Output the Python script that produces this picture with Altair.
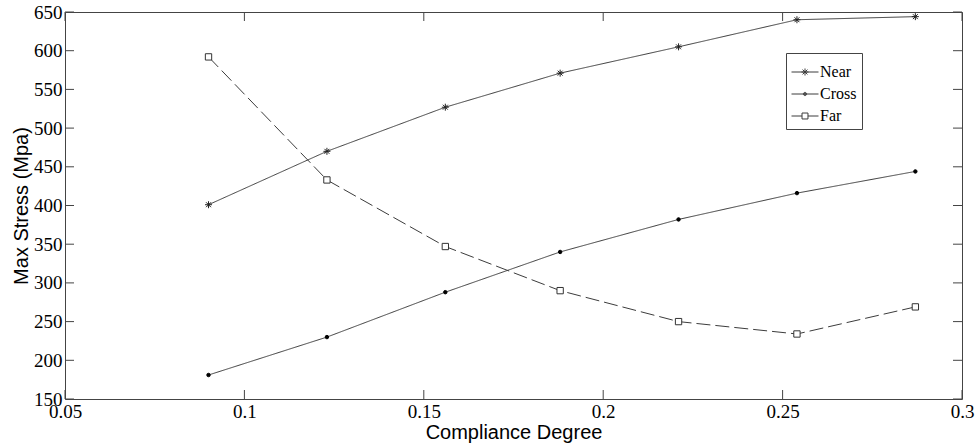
import altair as alt
import pandas as pd

# Compliance degree sampled at seven levels
compliance = [0.090, 0.123, 0.156, 0.188, 0.221, 0.254, 0.287]

# Max stress (MPa) for each loading position
near_stress = [401, 470, 527, 571, 605, 640, 644]
cross_stress = [181, 230, 288, 340, 382, 416, 444]
far_stress = [592, 433, 347, 290, 250, 234, 269]

series_names = ["Near", "Cross", "Far"]

# Axis tick values
x_ticks = [0.05, 0.1, 0.15, 0.2, 0.25, 0.3]
y_ticks = [150, 200, 250, 300, 350, 400, 450, 500, 550, 600, 650]

rows = []
for name, vals in zip(series_names, [near_stress, cross_stress, far_stress]):
    for cx, v in zip(compliance, vals):
        rows.append({"series": name, "compliance": cx, "stress": v})
df = pd.DataFrame(rows)

W, H = 897, 387
TICK = 9
LINE = "#3c3c3c"
FRAME = "#444444"

x_scale = alt.Scale(domain=[0.05, 0.3], nice=False, zero=False)
y_scale = alt.Scale(domain=[150, 650], nice=False, zero=False)

label_style = dict(
    grid=False,
    ticks=False,
    domain=False,
    labelFont="Liberation Serif",
    labelFontSize=19,
    labelColor="black",
    labelPadding=3,
    labelFlush=False,
    labelOverlap=False,
    titleFont="Liberation Sans",
    titleFontSize=20,
    titleFontWeight="normal",
    titleColor="black",
)

x_axis = alt.Axis(title="Compliance Degree", values=x_ticks, format="~g",
                  titlePadding=1, **label_style)
y_axis = alt.Axis(title="Max Stress (Mpa)", values=y_ticks, titlePadding=2,
                  **label_style)


def xpos(field):
    return alt.X(field, scale=x_scale, axis=x_axis)


def ypos(field):
    return alt.Y(field, scale=y_scale, axis=y_axis)


# Connecting lines: solid for Near/Cross, dashed for Far
lines = alt.Chart(df).mark_line(strokeWidth=1, color=LINE).encode(
    x=xpos("compliance:Q"),
    y=ypos("stress:Q"),
    strokeDash=alt.StrokeDash(
        "series:N",
        scale=alt.Scale(domain=series_names, range=[[1, 0], [1, 0], [14, 5]]),
        legend=None,
    ),
    detail="series:N",
)

ASTERISK = "M-1,0L1,0M0,-1L0,1M-0.7,-0.7L0.7,0.7M-0.7,0.7L0.7,-0.7"


def markers(name, **mark_kw):
    return (
        alt.Chart(df)
        .transform_filter(alt.datum.series == name)
        .mark_point(strokeWidth=1, opacity=1, **mark_kw)
        .encode(x=xpos("compliance:Q"), y=ypos("stress:Q"))
    )


near_pts = markers("Near", shape=ASTERISK, size=49, stroke="#222222", fill="transparent")
cross_pts = markers("Cross", shape="circle", size=12, stroke="black", fill="black")
far_pts = markers("Far", shape="square", size=40, stroke="#333333", fill="white")

# Legend symbols: a short line with the marker in its middle
LEG_NEAR = ("M-1,0L1,0M-0.26,0L0.26,0M0,-0.26L0,0.26"
            "M-0.18,-0.18L0.18,0.18M-0.18,0.18L0.18,-0.18")
LEG_CROSS = ("M-1,0L1,0M-0.12,0A0.12,0.12,0,1,0,0.12,0A0.12,0.12,0,1,0,-0.12,0Z"
             "M-0.06,0A0.06,0.06,0,1,0,0.06,0A0.06,0.06,0,1,0,-0.06,0Z")
LEG_FAR = "M-1,0L-0.22,0M0.22,0L1,0M-0.22,-0.22L0.22,-0.22L0.22,0.22L-0.22,0.22Z"

legend_layer = alt.Chart(df).transform_filter("false").mark_point(
    strokeWidth=1, color=LINE, filled=False
).encode(
    x=xpos("compliance:Q"),
    y=ypos("stress:Q"),
    shape=alt.Shape(
        "series:N",
        scale=alt.Scale(domain=series_names, range=[LEG_NEAR, LEG_CROSS, LEG_FAR]),
        legend=alt.Legend(
            title=None,
            orient="none",
            legendX=721,
            legendY=41,
            direction="vertical",
            symbolSize=729,
            symbolStrokeWidth=1,
            symbolStrokeColor=LINE,
            symbolFillColor="transparent",
            symbolOpacity=1,
            labelFont="Liberation Serif",
            labelFontSize=16,
            labelColor="black",
            labelOffset=1,
            rowPadding=-6.5,
            padding=5,
            strokeColor=FRAME,
            fillColor="white",
            cornerRadius=0,
        ),
    ),
)

# Inward tick marks on all four sides of the frame
xt = pd.DataFrame({"t": x_ticks})
yt = pd.DataFrame({"t": y_ticks})
tick_style = dict(color=FRAME, strokeWidth=1)
bottom_ticks = alt.Chart(xt).mark_rule(**tick_style).encode(
    x=xpos("t:Q"), y=alt.value(H), y2=alt.value(H - TICK)
)
top_ticks = alt.Chart(xt).mark_rule(**tick_style).encode(
    x=xpos("t:Q"), y=alt.value(0), y2=alt.value(TICK)
)
left_ticks = alt.Chart(yt).mark_rule(**tick_style).encode(
    y=ypos("t:Q"), x=alt.value(0), x2=alt.value(TICK)
)
right_ticks = alt.Chart(yt).mark_rule(**tick_style).encode(
    y=ypos("t:Q"), x=alt.value(W), x2=alt.value(W - TICK)
)

chart = (
    alt.layer(lines, bottom_ticks, top_ticks, left_ticks, right_ticks,
              near_pts, cross_pts, far_pts, legend_layer)
    .resolve_scale(shape="independent")
    .properties(
        width=W,
        height=H,
        autosize=alt.AutoSizeParams(type="none"),
        padding={"left": 65, "top": 12, "right": 14, "bottom": 44},
        background="white",
    )
    .configure_view(stroke=FRAME, strokeWidth=1)
    .configure_axis(labelOverlap=False)
)

chart.save("out.html", embed_options={"renderer": "svg", "actions": False})
